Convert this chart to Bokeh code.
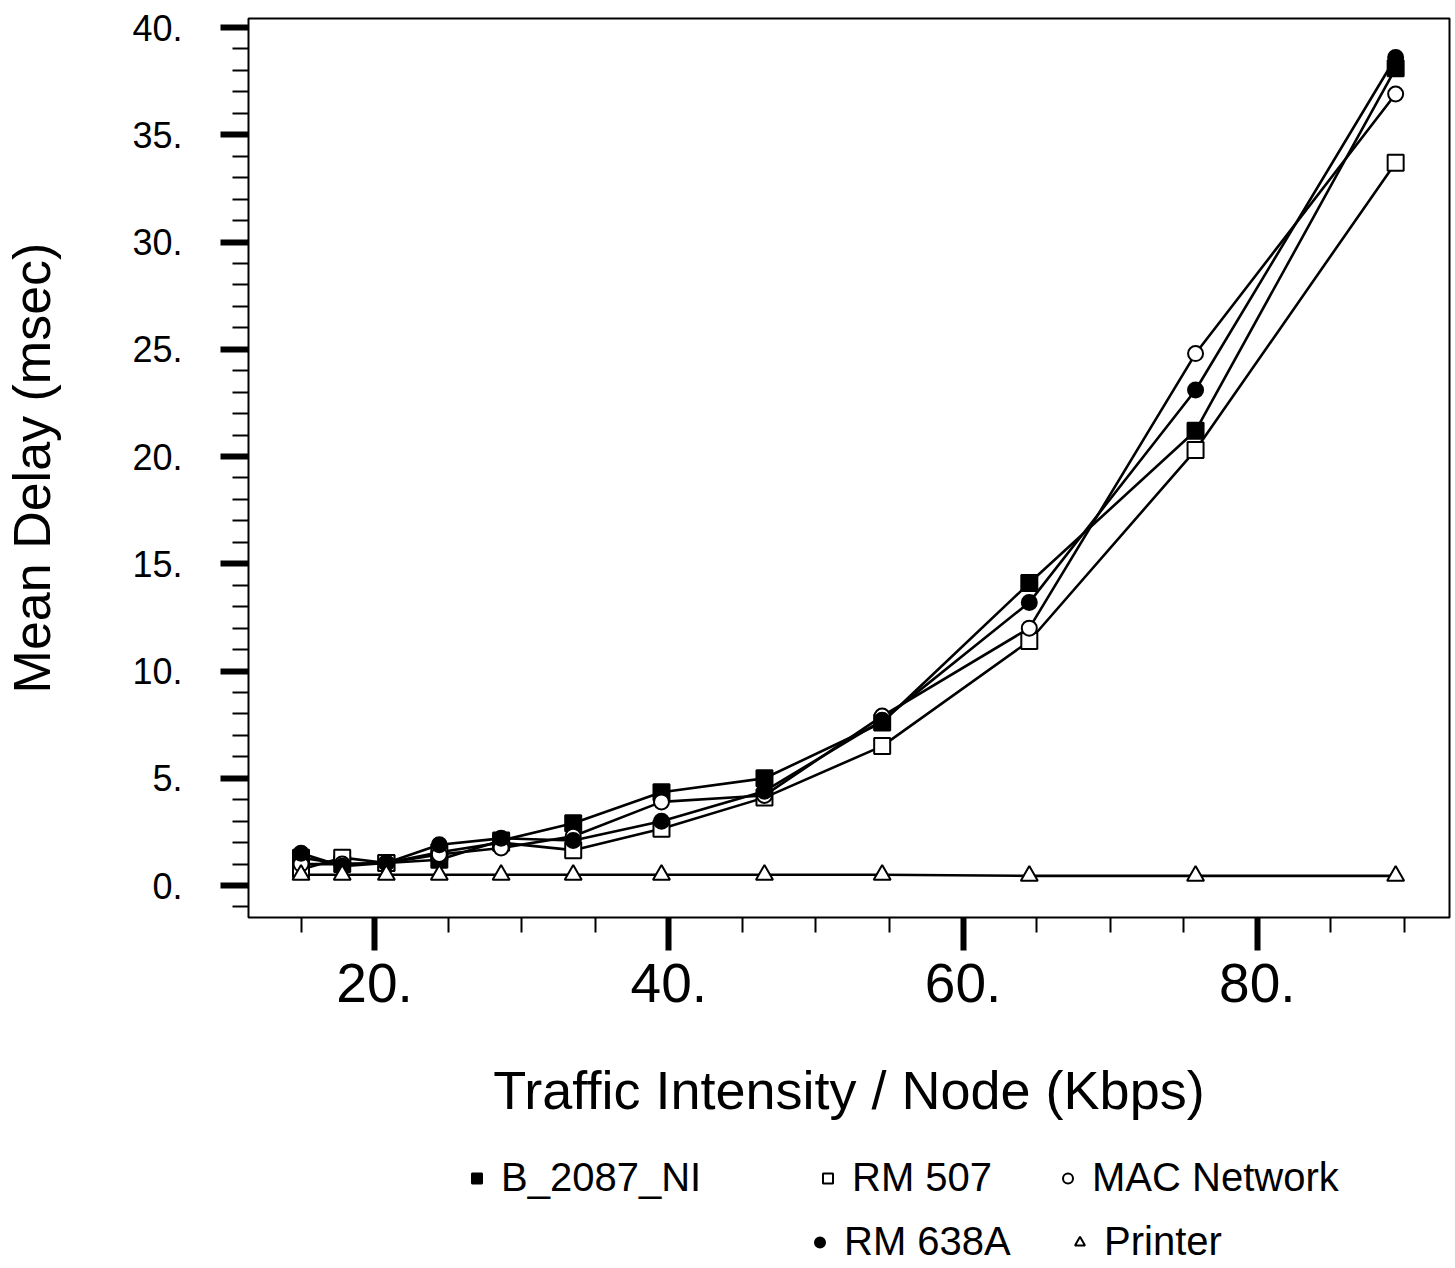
from bokeh.plotting import figure
from bokeh.layouts import column
from bokeh.models import Range1d, SingleIntervalTicker, PrintfTickFormatter, Legend, LegendItem
from bokeh.embed import file_html
from bokeh.resources import INLINE

# ---- data ----
traffic = [15.0, 17.8, 20.8, 24.4, 28.6, 33.5, 39.5, 46.5, 54.5, 64.5, 75.8, 89.4]
b_2087_ni = [1.3, 1.0, 1.05, 1.2, 2.1, 2.9, 4.35, 5.0, 7.6, 14.1, 21.2, 38.1]
rm_507 = [0.75, 1.3, 1.05, 1.55, 2.0, 1.65, 2.65, 4.1, 6.5, 11.4, 20.3, 33.7]
mac_network = [1.0, 1.0, 1.05, 1.45, 1.75, 2.3, 3.9, 4.2, 7.9, 12.0, 24.8, 36.9]
rm_638a = [1.5, 0.9, 1.05, 1.9, 2.2, 2.1, 3.0, 4.4, 7.7, 13.2, 23.1, 38.6]
printer = [0.5, 0.5, 0.5, 0.5, 0.5, 0.5, 0.5, 0.5, 0.5, 0.45, 0.45, 0.45]

series_names = ["B_2087_NI", "RM 507", "MAC Network", "RM 638A", "Printer"]
series_values = [b_2087_ni, rm_507, mac_network, rm_638a, printer]
x_ticks_interval = 20
y_ticks_interval = 5

FONT = "Liberation Sans"

p = figure(frame_width=1201, frame_height=899,
           min_border_left=245, min_border_top=18, min_border_right=6, min_border_bottom=209,
           x_range=Range1d(11.43, 93.06), y_range=Range1d(-1.49, 40.42),
           output_backend="svg", toolbar_location=None)
p.xgrid.visible = False
p.ygrid.visible = False
p.outline_line_color = "black"
p.outline_line_width = 2
p.background_fill_color = "white"
p.border_fill_color = "white"

styles = {
    "B_2087_NI": dict(marker="square", size=16, fill_color="black"),
    "RM 507": dict(marker="square", size=16, fill_color="white"),
    "MAC Network": dict(marker="circle", size=15, fill_color="white"),
    "RM 638A": dict(marker="circle", size=15, fill_color="black"),
    "Printer": dict(marker="triangle", size=17, fill_color="white"),
}

for name, vals in zip(series_names, series_values):
    p.line(traffic, vals, line_color="black", line_width=2.6)

for name, vals in zip(series_names, series_values):
    st = styles[name]
    p.scatter(traffic, vals, marker=st["marker"], size=st["size"],
              fill_color=st["fill_color"], line_color="black", line_width=2)

# axes
xa = p.xaxis[0]
xa.ticker = SingleIntervalTicker(interval=x_ticks_interval, num_minor_ticks=4)
xa.formatter = PrintfTickFormatter(format="%d.")
xa.axis_line_color = None
xa.major_tick_line_width = 6
xa.major_tick_in = 0
xa.major_tick_out = 33
xa.minor_tick_line_width = 2
xa.minor_tick_in = 0
xa.minor_tick_out = 15
xa.major_label_text_font = FONT
xa.major_label_text_font_size = "55px"
xa.major_label_text_color = "black"
xa.major_label_standoff = 13
xa.axis_label = "Traffic Intensity / Node (Kbps)"
xa.axis_label_text_font = FONT
xa.axis_label_text_font_size = "54px"
xa.axis_label_text_font_style = "normal"
xa.axis_label_text_color = "black"
xa.axis_label_standoff = 55

ya = p.yaxis[0]
ya.ticker = SingleIntervalTicker(interval=y_ticks_interval, num_minor_ticks=5)
ya.formatter = PrintfTickFormatter(format="%d.")
ya.axis_line_color = None
ya.major_tick_line_width = 6
ya.major_tick_in = 0
ya.major_tick_out = 28
ya.minor_tick_line_width = 2
ya.minor_tick_in = 0
ya.minor_tick_out = 16
ya.major_label_text_font = FONT
ya.major_label_text_font_size = "36px"
ya.major_label_text_color = "black"
ya.major_label_standoff = 38
ya.axis_label = "Mean Delay (msec)"
ya.axis_label_text_font = FONT
ya.axis_label_text_font_size = "52px"
ya.axis_label_text_font_style = "normal"
ya.axis_label_text_color = "black"
ya.axis_label_standoff = 68

# ---- legend panel below the chart (its frame is aligned with the chart's frame) ----
leg = figure(width=1453, height=140, min_border=0,
             x_range=Range1d(0, 1), y_range=Range1d(0, 1),
             x_axis_location=None, y_axis_location=None,
             output_backend="svg", toolbar_location=None)
leg.xgrid.visible = False
leg.ygrid.visible = False
leg.outline_line_color = None
leg.background_fill_color = "white"
leg.border_fill_color = "white"

legend_pos = {
    "B_2087_NI": (216, 66),
    "RM 507": (567, 66),
    "MAC Network": (807, 66),
    "RM 638A": (559, 2),
    "Printer": (819, 2),
}
for name, vals in zip(series_names, series_values):
    st = styles[name]
    # same series drawn in the legend panel (outside its visible range) so the
    # legend entries carry the proper marker
    r = leg.scatter(traffic, vals, marker=st["marker"], size=st["size"],
                    fill_color=st["fill_color"], line_color="black", line_width=2)
    lg = Legend(items=[LegendItem(label=name, renderers=[r])],
                location=legend_pos[name], orientation="horizontal",
                padding=0, margin=0, spacing=0,
                border_line_color=None, background_fill_alpha=0,
                glyph_width=25, glyph_height=40, label_height=40,
                label_standoff=12,
                label_text_font=FONT, label_text_font_size="40px",
                label_text_color="black")
    leg.add_layout(lg, "center")

layout = column(p, leg, spacing=0)
open("out.html", "w").write(file_html(layout, INLINE))
